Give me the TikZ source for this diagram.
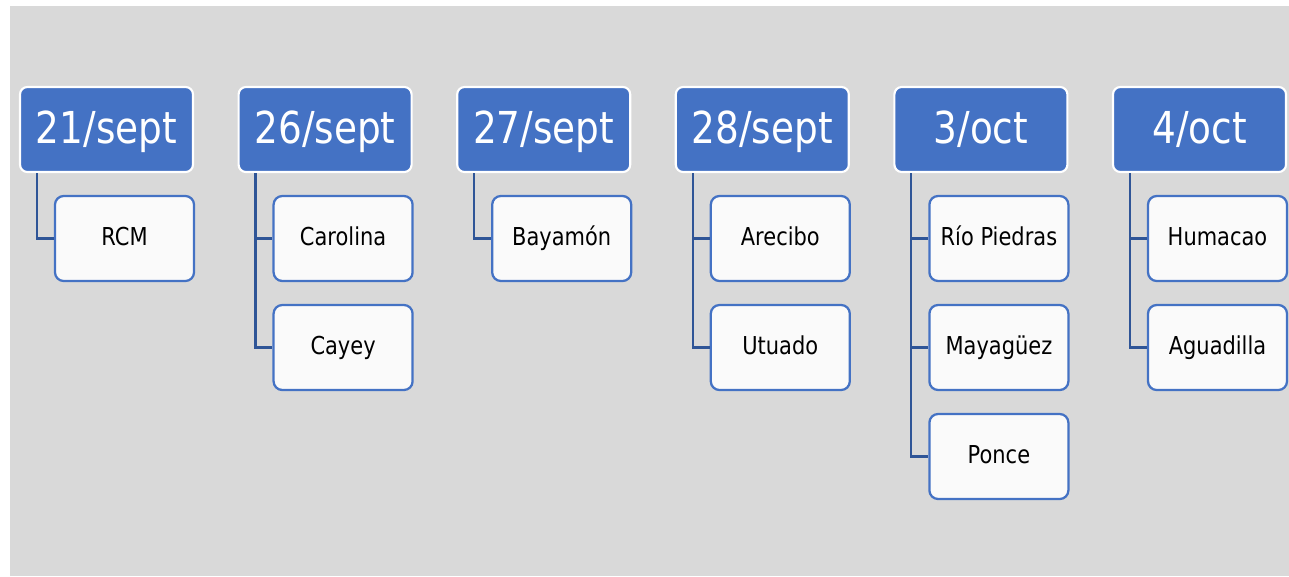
\documentclass[tikz,border=0pt]{standalone}
\usepackage{fontspec}
\setmainfont{DejaVu Sans}[FakeStretch=0.85]
\definecolor{fondgris}{HTML}{D9D9D9}
\definecolor{bleu}{HTML}{4472C4}
\definecolor{bleufonce}{HTML}{2F5597}
\definecolor{blanccasse}{HTML}{FAFAFA}
\begin{document}
\begin{tikzpicture}[x=0.75pt,y=-0.75pt]
        % Styles pour les boîtes et les liens
        \tikzstyle{date} = [draw=white,fill=bleu,line width=1.6pt,rounded corners=5.5pt,
            minimum width=129.75pt,minimum height=63.75pt,inner sep=0pt,
            text height=26pt,text depth=5.3pt,
            text=white,font=\fontsize{33}{40}\selectfont]
        \tikzstyle{ville} = [draw=bleu,fill=blanccasse,line width=1.7pt,rounded corners=6.5pt,
            minimum width=104.25pt,minimum height=63.75pt,inner sep=0pt,
            text height=14pt,text depth=2.8pt,
            text=black,font=\fontsize{18.5}{22}\selectfont]
        \tikzstyle{lien} = [draw=bleufonce,line width=1.6pt]

        % Fond gris
        \useasboundingbox (0,0) rectangle (1289,576);
        \fill[fondgris] (10,6) rectangle (1289,576);

        % Dates en haut et villes en dessous
        \foreach \i/\jour/\villes in {0/{21/sept}/{RCM},
                                      1/{26/sept}/{Carolina,Cayey},
                                      2/{27/sept}/{Bayamón},
                                      3/{28/sept}/{Arecibo,Utuado},
                                      4/{3/oct}/{Río Piedras,Mayagüez,Ponce},
                                      5/{4/oct}/{Humacao,Aguadilla}}{
            \node[date] (p\i) at (106.5+218.6*\i,129.5) {\jour};
            \foreach \v [count=\j from 0] in \villes{
                \node[ville] (c\i-\j) at (124.5+218.6*\i,238.5+109*\j) {\v};
                \draw[lien] ([xshift=13.5pt]p\i.south west) |- (c\i-\j.west);
            }
        }
\end{tikzpicture}
\end{document}
